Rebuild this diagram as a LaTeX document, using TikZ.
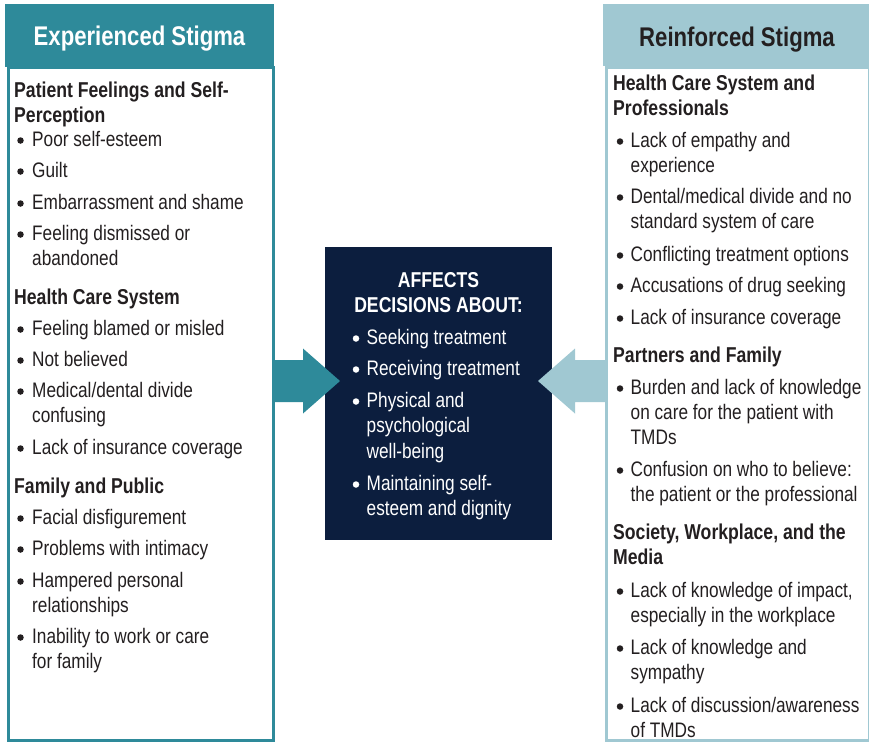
\documentclass[tikz,border=0pt]{standalone}
\usepackage{fontspec}
\newfontfamily\condfont{Liberation Sans}[FakeStretch=0.82]
\usetikzlibrary{positioning}
\definecolor{stigteal}{HTML}{2E8A9A}
\definecolor{stiglight}{HTML}{A0C8D2}
\definecolor{stignavy}{HTML}{0C1E3E}
\definecolor{stigtext}{HTML}{231F20}
\tikzset{
    headbox/.style = {rectangle, inner sep=0pt, anchor=north west},
    listbox/.style = {rectangle, line width=3pt, fill=white, anchor=north west, inner sep=0pt},
    headtxt/.style = {anchor=base, inner sep=0pt, font=\condfont\bfseries\fontsize{27}{30}\selectfont},
    subtxt/.style = {anchor=base west, inner sep=0pt, text=stigtext, font=\condfont\bfseries\fontsize{21.5}{25}\selectfont},
    bodytxt/.style = {anchor=base west, inner sep=0pt, text=stigtext, font=\condfont\fontsize{21}{25}\selectfont},
    dot/.style = {circle, fill=stigtext, inner sep=0pt, minimum size=6.5pt},
}

\begin{document}
\begin{tikzpicture}[x=1pt,y=-1pt]
  \useasboundingbox (0,0) rectangle (869,742);

  % side boxes and headers
  \node[listbox, draw=stigteal, minimum width=265pt, minimum height=673pt] (lbox) at (6.5,66) {};
  \node[listbox, draw=stiglight, minimum width=262.5pt, minimum height=673pt] (rbox) at (605,66) {};
  \node[headbox, fill=stigteal, minimum width=269pt, minimum height=63pt] (lhead) at (5,4) {};
  \node[headbox, fill=stiglight, minimum width=266pt, minimum height=62pt] (rhead) at (603,4) {};
  \node[headtxt, text=white] (ltitle) at (139.5,45) {Experienced Stigma};
  \node[headtxt, text=stigtext] (rtitle) at (737,46) {Reinforced Stigma};

  % middle box
  \node[headbox, fill=stignavy, minimum width=227pt, minimum height=293pt] (cbox) at (325,247) {};
  \node[headtxt, text=white, font=\condfont\bfseries\fontsize{21.5}{25}\selectfont] (ctitle) at (438.5,287) {AFFECTS};
  \node[headtxt, text=white, font=\condfont\bfseries\fontsize{21.5}{25}\selectfont] (ctitleb) at (438.5,312) {DECISIONS ABOUT:};
  \node[bodytxt, text=white] (ct1) at (366.5,344) {Seeking treatment};
  \node[bodytxt, text=white] (ct2) at (366.5,375) {Receiving treatment};
  \node[bodytxt, text=white] (ct3) at (366.5,407) {Physical and};
  \node[bodytxt, text=white] (ct3b) at (366.5,432.5) {psychological};
  \node[bodytxt, text=white] (ct3c) at (366.5,458) {well-being};
  \node[bodytxt, text=white] (ct4) at (366.5,490) {Maintaining self-};
  \node[bodytxt, text=white] (ct4b) at (366.5,515) {esteem and dignity};
  \foreach \y [count=\i] in {344,375,407,490}
    \node[dot, fill=white] (cb\i) at (356,\y-5.5) {};

  % arrows
  \coordinate (ltip) at (340,381);
  \coordinate (rtip) at (538,381);
  \fill[stigteal] (ltip) -- ++(-37,-32.5) -- ++(0,11.5) -- ++(-31,0) -- ++(0,42) -- ++(31,0) -- ++(0,11.5) -- cycle;
  \fill[stiglight] (rtip) -- ++(37,-32.5) -- ++(0,11.5) -- ++(31,0) -- ++(0,42) -- ++(-31,0) -- ++(0,11.5) -- cycle;

  % left list
  \node[subtxt] (lh1) at (14,97) {Patient Feelings and Self-};
  \node[subtxt] (lh1b) at (14,122) {Perception};
  \node[bodytxt] (lt1) at (32,146) {Poor self-esteem};
  \node[bodytxt] (lt2) at (32,177) {Guilt};
  \node[bodytxt] (lt3) at (32,209) {Embarrassment and shame};
  \node[bodytxt] (lt4) at (32,240) {Feeling dismissed or};
  \node[bodytxt] (lt4b) at (32,265) {abandoned};
  \node[subtxt] (lh2) at (14,304) {Health Care System};
  \node[bodytxt] (lt5) at (32,335) {Feeling blamed or misled};
  \node[bodytxt] (lt6) at (32,366) {Not believed};
  \node[bodytxt] (lt7) at (32,397) {Medical/dental divide};
  \node[bodytxt] (lt7b) at (32,422) {confusing};
  \node[bodytxt] (lt8) at (32,454) {Lack of insurance coverage};
  \node[subtxt] (lh3) at (14,493) {Family and Public};
  \node[bodytxt] (lt9) at (32,524) {Facial disfigurement};
  \node[bodytxt] (lt10) at (32,555) {Problems with intimacy};
  \node[bodytxt] (lt11) at (32,587) {Hampered personal};
  \node[bodytxt] (lt11b) at (32,612) {relationships};
  \node[bodytxt] (lt12) at (32,643) {Inability to work or care};
  \node[bodytxt] (lt12b) at (32,668) {for family};
  \foreach \y [count=\i] in {146,177,209,240,335,366,397,454,524,555,587,643}
    \node[dot] (lb\i) at (20.5,\y-5.5) {};

  % right list
  \node[subtxt] (rh1) at (613,90) {Health Care System and};
  \node[subtxt] (rh1b) at (613,115) {Professionals};
  \node[bodytxt] (rt1) at (630.5,147) {Lack of empathy and};
  \node[bodytxt] (rt1b) at (630.5,172) {experience};
  \node[bodytxt] (rt2) at (630.5,203) {Dental/medical divide and no};
  \node[bodytxt] (rt2b) at (630.5,228) {standard system of care};
  \node[bodytxt] (rt3) at (630.5,261) {Conflicting treatment options};
  \node[bodytxt] (rt4) at (630.5,292) {Accusations of drug seeking};
  \node[bodytxt] (rt5) at (630.5,324) {Lack of insurance coverage};
  \node[subtxt] (rh2) at (613,362) {Partners and Family};
  \node[bodytxt] (rt6) at (630.5,394) {Burden and lack of knowledge};
  \node[bodytxt] (rt6b) at (630.5,419) {on care for the patient with};
  \node[bodytxt] (rt6c) at (630.5,444) {TMDs};
  \node[bodytxt] (rt7) at (630.5,476) {Confusion on who to believe:};
  \node[bodytxt] (rt7b) at (630.5,501) {the patient or the professional};
  \node[subtxt] (rh3) at (613,539) {Society, Workplace, and the};
  \node[subtxt] (rh3b) at (613,564) {Media};
  \node[bodytxt] (rt8) at (630.5,597) {Lack of knowledge of impact,};
  \node[bodytxt] (rt8b) at (630.5,622) {especially in the workplace};
  \node[bodytxt] (rt9) at (630.5,654) {Lack of knowledge and};
  \node[bodytxt] (rt9b) at (630.5,679) {sympathy};
  \node[bodytxt] (rt10) at (630.5,712) {Lack of discussion/awareness};
  \node[bodytxt] (rt10b) at (630.5,737) {of TMDs};
  \foreach \y [count=\i] in {147,203,261,292,324,394,476,597,654,712}
    \node[dot] (rb\i) at (620,\y-5.5) {};
\end{tikzpicture}
\end{document}
